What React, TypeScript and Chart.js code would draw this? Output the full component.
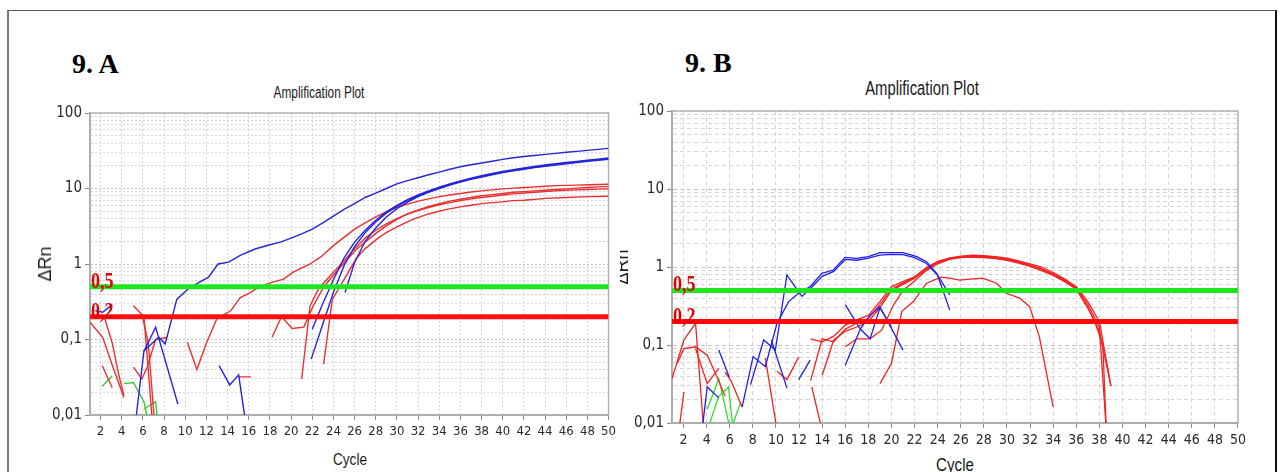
import React, { useEffect, useRef } from 'react';
import { Chart, registerables } from 'chart.js';

Chart.register(...registerables);

type Pt = [number, number];

// ---------------- shared axis data ----------------
const cycleRange = [1, 50];
const xTickValues = [2, 4, 6, 8, 10, 12, 14, 16, 18, 20, 22, 24, 26, 28, 30, 32, 34, 36, 38, 40, 42, 44, 46, 48, 50];
const yMajorTicks = [0.01, 0.1, 1, 10, 100];
const yMajorLabels = ['0,01', '0,1', '1', '10', '100'];
const thresholdValues = [0.5, 0.2];
const thresholdLabels = ['0,5', '0,2'];
const panelLabels = ['9. A', '9. B'];
const chartTitle = 'Amplification Plot';
const xAxisTitle = 'Cycle';
const yAxisTitle = 'ΔRn';

// ---------------- panel A (cycle, ΔRn) ----------------
const aBlue1: Pt[] = [[5.3, 0.008], [6.1, 0.071], [7.5, 0.107], [8.1, 0.087], [9.2, 0.34], [10.3, 0.47], [11.4, 0.58], [12.2, 0.67], [13.1, 1.0], [14.1, 1.06], [15.2, 1.3], [16.6, 1.58], [18, 1.8], [19, 1.95], [20, 2.2], [21, 2.5], [22, 2.9], [23, 3.5], [24, 4.3], [25, 5.3], [26, 6.3], [27, 7.6], [28, 8.7], [29, 10], [30, 11.5], [31, 12.7], [32, 13.9], [33, 15.2], [34, 16.5], [35, 18], [36, 19.4], [37, 20.6], [38, 21.8], [39, 23], [40, 24.3], [41, 25.5], [42, 26.5], [43, 27.4], [44, 28.3], [45, 29.2], [46, 30.2], [47, 31], [48, 32], [49, 33], [50, 34]];
const aBlue2: Pt[] = [[6.1, 0.07], [7.2, 0.146], [9.3, 0.014]];
const aBlue3: Pt[] = [[1.5, 0.24], [2.2, 0.23], [3.1, 0.29]];
const aBlue4: Pt[] = [[13.2, 0.045], [14.2, 0.025], [15.05, 0.034], [15.7, 0.008]];
const aBlue5: Pt[] = [[21.9, 0.055], [23, 0.16], [24, 0.42], [25, 0.95], [26, 1.7], [27, 2.6], [28, 3.6], [29, 4.7], [30, 5.8], [31, 6.9], [32, 8], [33, 9.1], [34, 10.2], [35, 11.3], [36, 12.4], [37, 13.5], [38, 14.5], [39, 15.5], [40, 16.5], [41, 17.4], [42, 18.3], [43, 19.2], [44, 20], [45, 20.8], [46, 21.6], [47, 22.4], [48, 23.2], [49, 24], [50, 24.7]];
const aBlue6: Pt[] = [[22, 0.137], [23, 0.3], [24, 0.62], [25, 1.2], [26, 1.95], [27, 2.8], [28, 3.8], [29, 4.9], [30, 6], [31, 7.1], [32, 8.2], [33, 9.3], [34, 10.4], [35, 11.5], [36, 12.6], [37, 13.7], [38, 14.8], [39, 15.8], [40, 16.8], [41, 17.8], [42, 18.7], [43, 19.6], [44, 20.5], [45, 21.3], [46, 22.1], [47, 22.9], [48, 23.7], [49, 24.5], [50, 25.3]];
const aBlue7: Pt[] = [[25.1, 0.42], [26, 1.05], [27, 2.0], [28, 3.0], [29, 4.2], [30, 5.4], [31, 6.6], [32, 7.8], [33, 8.9], [34, 10], [35, 11.1], [36, 12.2], [37, 13.2], [38, 14.2], [39, 15.2], [40, 16.2], [41, 17.1], [42, 18], [43, 18.9], [44, 19.7], [45, 20.5], [46, 21.3], [47, 22.1], [48, 22.9], [49, 23.6], [50, 24.3]];

const aRed1: Pt[] = [[10.2, 0.092], [11.1, 0.04], [12, 0.09], [13, 0.19], [14.3, 0.24], [15.2, 0.36], [16.2, 0.42], [16.9, 0.49], [18.2, 0.57], [19.3, 0.63], [20.2, 0.78], [21.8, 1.0], [22.8, 1.24], [24, 1.75], [25, 2.25], [26, 2.9], [27, 3.5], [28, 4.2], [29, 4.9], [30, 5.6], [31, 6.2], [32, 6.8], [33, 7.3], [34, 7.8], [35, 8.2], [36, 8.6], [37, 9.0], [38, 9.3], [39, 9.6], [40, 9.9], [41, 10.1], [42, 10.3], [43, 10.5], [44, 10.7], [45, 10.9], [46, 11.0], [47, 11.1], [48, 11.2], [49, 11.3], [50, 11.4]];
const aRed2: Pt[] = [[18.2, 0.107], [19.1, 0.2], [20.1, 0.14], [21.2, 0.146], [22.1, 0.28], [23.1, 0.5], [24.5, 0.86], [26.2, 1.58], [28.1, 2.6], [29, 3.2], [30, 3.9], [31, 4.6], [32, 5.2], [33, 5.8], [34, 6.3], [35, 6.8], [36, 7.2], [37, 7.6], [38, 8.0], [39, 8.3], [40, 8.6], [41, 8.9], [42, 9.1], [43, 9.3], [44, 9.5], [45, 9.7], [46, 9.9], [47, 10.1], [48, 10.3], [49, 10.5], [50, 10.6]];
const aRed3: Pt[] = [[21, 0.03], [21.8, 0.28], [22.6, 0.47], [23.7, 0.7], [25, 1.1], [26, 1.6], [27, 2.2], [28, 2.8], [29, 3.4], [30, 4.0], [31, 4.6], [32, 5.1], [33, 5.6], [34, 6.1], [35, 6.5], [36, 6.9], [37, 7.3], [38, 7.6], [39, 7.9], [40, 8.2], [41, 8.5], [42, 8.7], [43, 8.9], [44, 9.1], [45, 9.3], [46, 9.5], [47, 9.6], [48, 9.7], [49, 9.8], [50, 9.9]];
const aRed4: Pt[] = [[23.07, 0.047], [23.9, 0.34], [25, 0.62], [26.2, 1.2], [27, 1.6], [28.4, 2.3], [29, 2.6], [30, 3.1], [31.5, 3.9], [33, 4.6], [34.7, 5.3], [36, 5.7], [37, 6.0], [38, 6.3], [39.4, 6.55], [41, 6.9], [42, 7.0], [44.1, 7.4], [46, 7.6], [48, 7.8], [50, 7.9]];
const aRed5: Pt[] = [[1, 0.17], [2.2, 0.107], [3.1, 0.046], [4.2, 0.017]];
const aRed6: Pt[] = [[2.3, 0.21], [3.1, 0.09], [3.7, 0.035], [4.2, 0.018]];
const aRed7: Pt[] = [[2.16, 0.045], [3.1, 0.023]];
const aRed8: Pt[] = [[5.1, 0.28], [6.1, 0.2], [6.9, 0.008]];
const aRed9: Pt[] = [[5.1, 0.043], [5.9, 0.03], [6.4, 0.043], [7.2, 0.1], [8.3, 0.107]];
const aRed10: Pt[] = [[6.0, 0.19], [6.5, 0.09], [7.1, 0.008]];
const aRed11: Pt[] = [[15.05, 0.032], [16.2, 0.032]];

const aGreen1: Pt[] = [[2.16, 0.024], [3.1, 0.033]];
const aGreen2: Pt[] = [[4.2, 0.026], [5.1, 0.027], [6.1, 0.015], [6.5, 0.008]];
const aGreen3: Pt[] = [[6.1, 0.012], [7.2, 0.015], [7.4, 0.008]];

const aBlueSeries = [aBlue1, aBlue2, aBlue3, aBlue4, aBlue5, aBlue6, aBlue7];
const aRedSeries = [aRed1, aRed2, aRed3, aRed4, aRed5, aRed6, aRed7, aRed8, aRed9, aRed10, aRed11];
const aGreenSeries = [aGreen1, aGreen2, aGreen3];

// ---------------- panel B (cycle, ΔRn) ----------------
const bBlue1: Pt[] = [[7.07, 0.016], [8.02, 0.071], [9.08, 0.053], [10.09, 0.19], [11.1, 0.36], [11.96, 0.46], [12.96, 0.56], [13.97, 0.83], [14.97, 0.915], [15.98, 1.33], [16.99, 1.29], [17.99, 1.36], [19, 1.53], [21, 1.53], [22.2, 1.36], [23.04, 1.17], [23.9, 0.83], [25.05, 0.44]];
const bBlue2: Pt[] = [[7.8, 0.031], [8.94, 0.116], [9.95, 0.086], [10.95, 0.79], [11.96, 0.48], [12.25, 0.42], [13, 0.53], [14, 0.76], [15, 0.88], [16, 1.25], [17, 1.22], [18, 1.3], [19, 1.42], [20, 1.45], [21, 1.44], [22, 1.32], [23, 1.12], [24, 0.78], [25.05, 0.28]];
const bBlue3: Pt[] = [[9.6, 0.116], [10.95, 0.028]];
const bBlue4: Pt[] = [[3.6, 0.008], [4.05, 0.029], [5.05, 0.021]];
const bBlue5: Pt[] = [[5.05, 0.086], [5.95, 0.039]];
const bBlue6: Pt[] = [[11.96, 0.036], [12.96, 0.064]];
const bBlue7: Pt[] = [[16, 0.33], [17.3, 0.16], [18.15, 0.12], [19, 0.3], [20, 0.17]];
const bBlue8: Pt[] = [[16, 0.055], [17.3, 0.16], [18.15, 0.24], [19, 0.31], [21, 0.086]];

const bRed1: Pt[] = [[13, 0.12], [14, 0.11], [15, 0.13], [16, 0.18], [17, 0.21], [18, 0.24], [19, 0.36], [20, 0.56], [21, 0.65], [22, 0.75], [23, 0.96], [24, 1.15], [25, 1.3], [26, 1.38], [27, 1.42], [28, 1.4], [29, 1.36], [30, 1.3], [31, 1.2], [32, 1.1], [33, 1.0], [34, 0.85], [35, 0.7], [36, 0.56], [37, 0.36], [38, 0.2], [39, 0.03]];
const bRed2: Pt[] = [[14, 0.041], [15, 0.116], [16, 0.15], [17, 0.17], [18, 0.2], [19, 0.3], [20, 0.5], [21, 0.6], [22, 0.72], [23, 0.92], [24, 1.12], [25, 1.28], [26, 1.35], [27, 1.38], [28, 1.37], [29, 1.33], [30, 1.27], [31, 1.18], [32, 1.06], [33, 0.95], [34, 0.82], [35, 0.68], [36, 0.55], [37, 0.33], [38, 0.17], [38.6, 0.008]];
const bRed3: Pt[] = [[13, 0.035], [14, 0.12], [15, 0.11], [16, 0.16], [17, 0.19], [18, 0.22], [19, 0.33], [20, 0.52], [21, 0.62], [22, 0.74], [23, 0.98], [24, 1.18], [25, 1.3], [26, 1.33], [27, 1.33], [28, 1.32], [29, 1.28], [30, 1.22], [31, 1.12], [32, 1.02], [33, 0.9], [34, 0.78], [35, 0.65], [36, 0.52], [37, 0.3], [37.6, 0.2], [38.3, 0.1], [38.6, 0.008]];
const bRed4: Pt[] = [[16, 0.095], [17, 0.12], [18.15, 0.12], [19.15, 0.155], [20.2, 0.33], [21, 0.5], [22, 0.66], [23, 0.9], [24, 1.1], [25, 1.25], [26, 1.32], [27, 1.35], [28, 1.34], [29, 1.3], [30, 1.25], [31, 1.15], [32, 1.05], [33, 0.93], [34, 0.8], [35, 0.66], [36, 0.53], [37, 0.3], [38, 0.15], [39, 0.03]];
const bRed5: Pt[] = [[19, 0.032], [20, 0.058], [20.9, 0.27], [21.9, 0.36], [23.04, 0.62], [24.3, 0.74], [25.05, 0.72], [25.9, 0.68], [26.8, 0.7], [27.9, 0.72], [29.1, 0.62], [29.95, 0.46], [31.1, 0.4], [31.96, 0.31], [32.8, 0.128], [34, 0.016]];
const bRed6: Pt[] = [[1.0, 0.037], [2.03, 0.116], [3.04, 0.19], [3.75, 0.008]];
const bRed7: Pt[] = [[1.46, 0.058], [2.03, 0.09], [3.04, 0.095], [4.05, 0.074], [4.9, 0.039], [5.6, 0.022]];
const bRed8: Pt[] = [[1.6, 0.008], [2.03, 0.025]];
const bRed9: Pt[] = [[3.04, 0.09], [4.05, 0.032], [5.05, 0.05]];
const bRed10: Pt[] = [[5.6, 0.045], [6.1, 0.035], [7.07, 0.016]];
const bRed11: Pt[] = [[9.08, 0.068], [10.1, 0.008]];
const bRed12: Pt[] = [[10.1, 0.046], [10.95, 0.036], [11.96, 0.07]];
const bRed13: Pt[] = [[13.1, 0.029], [14.0, 0.008]];

const bGreen1: Pt[] = [[4.05, 0.015], [5.05, 0.037], [6.06, 0.008]];
const bGreen2: Pt[] = [[4.05, 0.008], [5.05, 0.022], [5.9, 0.029], [6.3, 0.008]];
const bGreen3: Pt[] = [[6.06, 0.008], [6.93, 0.018]];

const bBlueSeries = [bBlue1, bBlue2, bBlue3, bBlue4, bBlue5, bBlue6, bBlue7, bBlue8];
const bRedSeries = [bRed1, bRed2, bRed3, bRed4, bRed5, bRed6, bRed7, bRed8, bRed9, bRed10, bRed11, bRed12, bRed13];
const bGreenSeries = [bGreen1, bGreen2, bGreen3];

// ---------------- styling / layout ----------------
const NARROW = '"Liberation Sans Narrow", "DejaVu Sans Condensed", "Liberation Sans", Arial, sans-serif';
const SANS = '"Liberation Sans", Arial, sans-serif';
const SERIF = '"Liberation Serif", "Times New Roman", serif';

interface PanelStyle {
  left: number; top: number; width: number; height: number;
  padTop: number; padRight: number; yAxisW: number; xAxisH: number;
  blue: string; red: string; green: string; lw: number;
  thrGreen: string; thrRed: string; thrW: number;
  gridDash: number[]; gridColor: string; gridMajor: string;
  xFont: number; yFont: number; thrFont: number;
}

const styleA: PanelStyle = {
  left: 20, top: 100, width: 600, height: 345, padTop: 13, padRight: 11, yAxisW: 70, xAxisH: 30,
  blue: '#2424dc', red: '#e83030', green: '#33cc33', lw: 1.4,
  thrGreen: '#1ee61e', thrRed: '#ff1010', thrW: 5,
  gridDash: [2, 2], gridColor: '#d6d6d6', gridMajor: '#c4c4c4', xFont: 13, yFont: 15, thrFont: 24,
};
const styleB: PanelStyle = {
  left: 600, top: 98, width: 650, height: 355, padTop: 13, padRight: 11, yAxisW: 72, xAxisH: 30,
  blue: '#2020e8', red: '#f52020', green: '#33dd33', lw: 1.3,
  thrGreen: '#1ee61e', thrRed: '#ff0a0a', thrW: 5,
  gridDash: [4, 3], gridColor: '#d6d6d6', gridMajor: '#c4c4c4', xFont: 14, yFont: 15, thrFont: 24,
};

function isMajor(v: number) {
  return yMajorTicks.some((m) => Math.abs(m - v) / m < 1e-6);
}

function curveSet(points: Pt[], color: string, lw: number) {
  return {
    data: points.map(([x, y]) => ({ x, y })),
    borderColor: color, backgroundColor: color, borderWidth: lw,
    pointRadius: 0, tension: 0, fill: false, clip: 0,
  };
}

function thresholdSet(value: number, color: string, lw: number) {
  return {
    data: [{ x: cycleRange[0], y: value }, { x: cycleRange[1], y: value }],
    borderColor: color, backgroundColor: color, borderWidth: lw,
    pointRadius: 0, tension: 0, fill: false, clip: 0,
  };
}

function buildConfig(blue: Pt[][], red: Pt[][], green: Pt[][], st: PanelStyle): any {
  const datasets: any[] = [
    thresholdSet(thresholdValues[0], st.thrGreen, st.thrW),
    thresholdSet(thresholdValues[1], st.thrRed, st.thrW),
  ];
  blue.forEach((p) => datasets.push(curveSet(p, st.blue, st.lw)));
  red.forEach((p) => datasets.push(curveSet(p, st.red, st.lw)));
  green.forEach((p) => datasets.push(curveSet(p, st.green, st.lw)));

  const framePlugin = {
    id: 'frame',
    beforeDatasetsDraw(chart: any) {
      const { ctx, chartArea: a } = chart;
      ctx.save();
      ctx.strokeStyle = '#b4b4b4';
      ctx.lineWidth = 1.5;
      ctx.strokeRect(a.left, a.top, a.right - a.left, a.bottom - a.top);
      ctx.restore();
    },
  };
  const thresholdLabelPlugin = {
    id: 'thrLabels',
    afterDatasetsDraw(chart: any) {
      const { ctx, chartArea: a } = chart;
      const ys = chart.scales.y;
      ctx.save();
      ctx.fillStyle = '#e00000';
      ctx.font = `bold ${st.thrFont}px ${SERIF}`;
      ctx.textBaseline = 'alphabetic';
      thresholdValues.forEach((v, i) => {
        const y = ys.getPixelForValue(v);
        ctx.save();
        ctx.translate(a.left + 1, y + 1);
        ctx.scale(0.75, 1);
        ctx.fillText(thresholdLabels[i], 0, 0);
        ctx.restore();
      });
      ctx.restore();
    },
  };

  return {
    type: 'line',
    data: { datasets },
    plugins: [framePlugin, thresholdLabelPlugin],
    options: {
      responsive: false,
      maintainAspectRatio: false,
      devicePixelRatio: 1,
      animation: false,
      events: [],
      layout: { padding: { top: st.padTop, right: st.padRight, left: 0, bottom: 0 } },
      plugins: { legend: { display: false }, tooltip: { enabled: false }, title: { display: false } },
      scales: {
        x: {
          type: 'linear',
          min: cycleRange[0],
          max: cycleRange[1],
          afterBuildTicks: (s: any) => { s.ticks = xTickValues.map((v) => ({ value: v })); },
          afterFit: (s: any) => { s.height = st.xAxisH; },
          ticks: {
            autoSkip: false, maxRotation: 0, minRotation: 0, padding: 4, color: '#2a2a2a',
            font: { family: NARROW, size: st.xFont },
            callback: (v: any) => String(v),
          },
          grid: { color: st.gridColor, lineWidth: 1, tickLength: 5, tickColor: '#8a8a8a', drawTicks: true },
          border: { display: true, color: '#9a9a9a', width: 2, dash: st.gridDash },
        },
        y: {
          type: 'logarithmic',
          min: yMajorTicks[0],
          max: yMajorTicks[yMajorTicks.length - 1],
          afterBuildTicks: (s: any) => {
            const t: any[] = [];
            for (let i = 0; i < yMajorTicks.length - 1; i++) {
              for (let m = 1; m < 10; m++) t.push({ value: yMajorTicks[i] * m });
            }
            t.push({ value: yMajorTicks[yMajorTicks.length - 1] });
            s.ticks = t;
          },
          afterFit: (s: any) => { s.width = st.yAxisW; },
          ticks: {
            autoSkip: false, padding: 3, color: '#2a2a2a',
            font: { family: NARROW, size: st.yFont },
            callback: (v: any) => {
              const i = yMajorTicks.findIndex((m) => Math.abs(m - v) / m < 1e-6);
              return i >= 0 ? yMajorLabels[i] : '';
            },
          },
          grid: {
            color: (c: any) => (c.tick && isMajor(c.tick.value) ? st.gridMajor : st.gridColor),
            tickColor: (c: any) => (c.tick && isMajor(c.tick.value) ? '#8a8a8a' : 'rgba(0,0,0,0)'),
            lineWidth: 1, tickLength: 5, drawTicks: true,
          },
          border: { display: true, color: '#9a9a9a', width: 2, dash: st.gridDash },
        },
      },
    },
  };
}

function PlotCanvas(props: { blue: Pt[][]; red: Pt[][]; green: Pt[][]; st: PanelStyle }) {
  const ref = useRef<HTMLCanvasElement>(null);
  useEffect(() => {
    if (!ref.current) return;
    const chart = new Chart(ref.current, buildConfig(props.blue, props.red, props.green, props.st));
    return () => chart.destroy();
  }, []);
  const st = props.st;
  return (
    <canvas
      ref={ref}
      width={st.width}
      height={st.height}
      style={{ position: 'absolute', left: st.left, top: st.top, width: st.width, height: st.height }}
    />
  );
}

function Text(props: { text: string; x: number; y: number; size: number; family: string; weight?: string; center?: boolean; rotate?: boolean; color?: string; sx?: number }) {
  const { text, x, y, size, family, weight, center, rotate, color, sx } = props;
  const s = sx || 1;
  let transform = '';
  if (rotate) transform = `translate(-50%, -50%) rotate(-90deg) scaleX(${s})`;
  else if (center) transform = `translateX(-50%) scaleX(${s})`;
  else transform = `scaleX(${s})`;
  return (
    <div
      style={{
        position: 'absolute', left: x, top: y, fontSize: size, lineHeight: `${size}px`, fontFamily: family,
        fontWeight: (weight as any) || 'normal', whiteSpace: 'nowrap', transform,
        transformOrigin: center || rotate ? 'center' : 'left center', color: color || '#1a1a1a',
      }}
    >
      {text}
    </div>
  );
}

export default function App() {
  return (
    <div style={{ position: 'fixed', left: 0, top: 0, width: 1280, height: 472, overflow: 'hidden', background: '#fff' }}>
      <div
        style={{
          position: 'absolute', left: 7, top: 10, width: 1266, height: 500,
          borderLeft: '2px solid #7a7a7a', borderTop: '1px solid #555', borderRight: '2px solid #111',
        }}
      />
      <Text text={panelLabels[0]} x={72} y={50} size={28} family={SERIF} weight="bold" color="#000" />
      <Text text={panelLabels[1]} x={685} y={49} size={28} family={SERIF} weight="bold" color="#000" />
      <Text text={chartTitle} x={319} y={85} size={16} family={SANS} center sx={0.74} />
      <Text text={chartTitle} x={922} y={78} size={20} family={SANS} center sx={0.74} />
      <PlotCanvas blue={aBlueSeries} red={aRedSeries} green={aGreenSeries} st={styleA} />
      <PlotCanvas blue={bBlueSeries} red={bRedSeries} green={bGreenSeries} st={styleB} />
      <Text text={xAxisTitle} x={350} y={451} size={17} family={SANS} center sx={0.8} />
      <Text text={xAxisTitle} x={955} y={455} size={19} family={SANS} center sx={0.8} />
      <Text text={yAxisTitle} x={45} y={264} size={18} family={SANS} rotate />
      <div style={{ position: 'absolute', left: 620, top: 230, width: 12, height: 70, overflow: 'hidden' }}>
        <Text text={yAxisTitle} x={2} y={37} size={18} family={SANS} rotate />
      </div>
    </div>
  );
}
